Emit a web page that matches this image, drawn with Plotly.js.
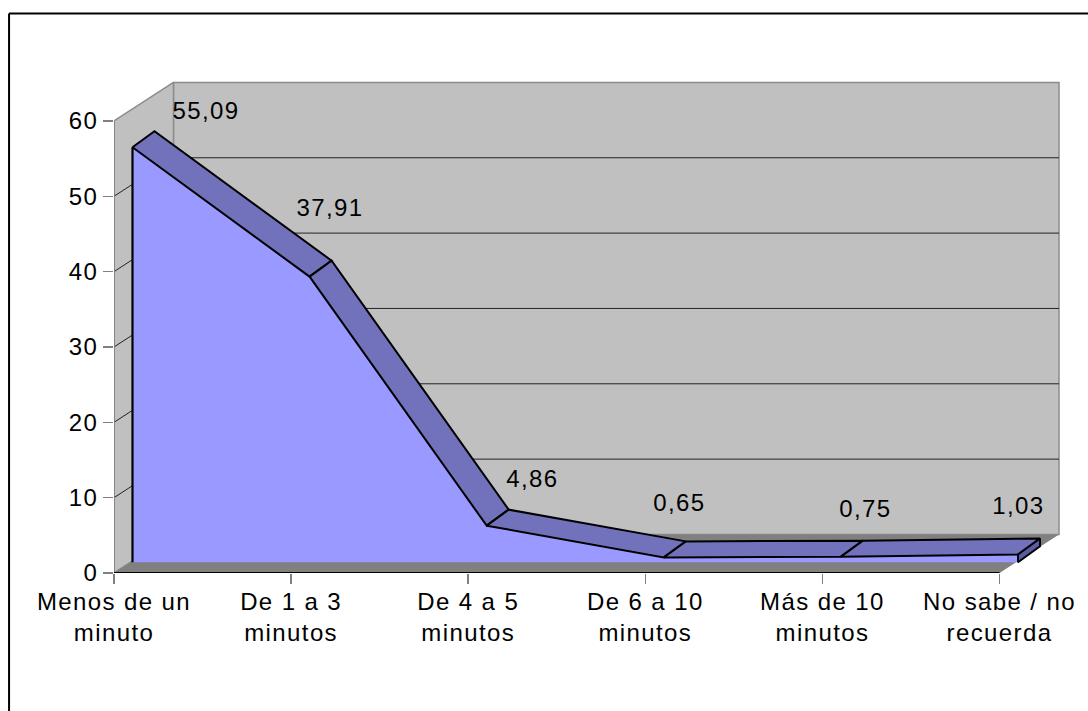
<!DOCTYPE html>
<html><head><meta charset="utf-8">
<script src="https://cdn.plot.ly/plotly-3.0.1.min.js"></script>
<style>html,body{margin:0;padding:0;background:#fff;overflow:hidden}
#chart svg text{letter-spacing:1.4px}</style>
</head><body><div id="chart" style="width:1088px;height:711px"></div>
<script>
// Data
const categories = ["Menos de un<br>minuto","De 1 a 3<br>minutos","De 4 a 5<br>minutos","De 6 a 10<br>minutos","Más de 10<br>minutos","No sabe / no<br>recuerda"];
const values = [55.09,37.91,4.86,0.65,0.75,1.03];
const valueLabels = ["55,09","37,91","4,86","0,65","0,75","1,03"];
const yTicks = [0,10,20,30,40,50,60];

// Scale of the axes in pixels per unit, and the oblique projection offsets in pixels
const PXU = 177.2, PXV = 7.53;
const L = 113.5, B = 572.7, R = 1072, T = 70;
const wall = {dx:59.5, dy:38.5}, front = {dx:18.5, dy:10.7}, back = {dx:40.5, dy:26.7};
const labelShift = [[91.5,47.5],[39,80],[63.8,58],[33.9,66],[43.2,59],[19.2,60]];

const U = (u,o)=> u + (o? o.dx:0)/PXU;
const V = (v,o)=> v + (o? o.dy:0)/PXV;
const last = categories.length-1, top60 = yTicks[yTicks.length-1];

function poly(pts, fill, lineColor, w){
  return {type:'scatter',mode:'lines',x:pts.map(p=>U(p[0],p[2])),y:pts.map(p=>V(p[1],p[2])),
    fill:fill?'toself':'none',fillcolor:fill||undefined,
    line:{color:lineColor||'rgba(0,0,0,0)',width:lineColor?(w||1):0,simplify:false},
    hoverinfo:'skip',showlegend:false,cliponaxis:false};
}
const traces = [];
// back wall, left wall, floor
traces.push(poly([[0,0,wall],[0,top60,wall],[last,top60,wall],[last,0,wall],[0,0,wall]],'#c0c0c0','#8c8c8c',1.5));
traces.push(poly([[0,0],[0,top60],[0,top60,wall],[0,0,wall],[0,0]],'#c0c0c0','#8c8c8c',1.5));
traces.push(poly([[0,0],[last,0],[last,0,wall],[0,0,wall],[0,0]],'#808080'));
// gridlines on both walls
yTicks.slice(1,-1).forEach(v=>{
  traces.push(poly([[0,v],[0,v,wall],[last,v,wall]],null,'#222222',1));
});
// area front face
const frontPts = [[0,0,front]].concat(values.map((v,i)=>[i,v,front]),[[last,0,front]]);
traces.push(poly(frontPts.concat([[0,0,front]]),'#9999ff'));
// top band segments
for(let i=0;i<last;i++){
  traces.push(poly([[i,values[i],front],[i+1,values[i+1],front],[i+1,values[i+1],back],[i,values[i],back],[i,values[i],front]],'#7272bc','#000000',2));
}
// right end face
traces.push(poly([[last,values[last],front],[last,values[last],back],[last,0,back],[last,0,front],[last,values[last],front]],'#5c5ca3','#000000',2));
// left outline of front face
traces.push(poly([[0,0,front],[0,values[0],front]],null,'#000000',2.2));
// axis lines
traces.push(poly([[0,0],[0,top60]],null,'#808080',1.5));
traces.push(poly([[0,0],[last,0]],null,'#000000',2));

const tickFont = {family:'"Liberation Sans", Arial, sans-serif',size:24,color:'#000'};
const layout = {
  width:1088,height:711,paper_bgcolor:'#fff',plot_bgcolor:'rgba(0,0,0,0)',showlegend:false,
  margin:{l:L,r:1088-R,t:T,b:711-B,pad:0,autoexpand:false},
  xaxis:{range:[0,(R-L)/PXU],tickmode:'array',tickvals:categories.map((c,i)=>i),ticktext:categories,
    ticks:'outside',ticklen:10,tickwidth:1.5,tickcolor:'#808080',tickangle:0,showgrid:false,zeroline:false,showline:false,tickfont:tickFont,automargin:false,ticklabelstandoff:-3},
  yaxis:{range:[0,(B-T)/PXV],tickmode:'array',tickvals:yTicks,ticktext:yTicks.map(String),
    ticks:'outside',ticklen:10,tickwidth:1.5,tickcolor:'#808080',showgrid:false,zeroline:false,showline:false,tickfont:tickFont,automargin:false},
  shapes:[
    {type:'line',xref:'paper',yref:'paper',x0:-(L-8.5)/(R-L),x1:(1088-L)/(R-L),y0:(B-13.5)/(B-T),y1:(B-13.5)/(B-T),line:{color:'#000',width:2}},
    {type:'line',xref:'paper',yref:'paper',x0:-(L-8.5)/(R-L),x1:-(L-8.5)/(R-L),y0:(B-711)/(B-T),y1:(B-13.5)/(B-T),line:{color:'#000',width:2}}
  ],
  annotations:values.map((v,i)=>({x:i,y:v,xref:'x',yref:'y',text:valueLabels[i],showarrow:false,
    xanchor:'center',yanchor:'middle',xshift:labelShift[i][0],yshift:labelShift[i][1],font:tickFont}))
};
Plotly.newPlot('chart',traces,layout,{staticPlot:true,displayModeBar:false});
</script></body></html>
